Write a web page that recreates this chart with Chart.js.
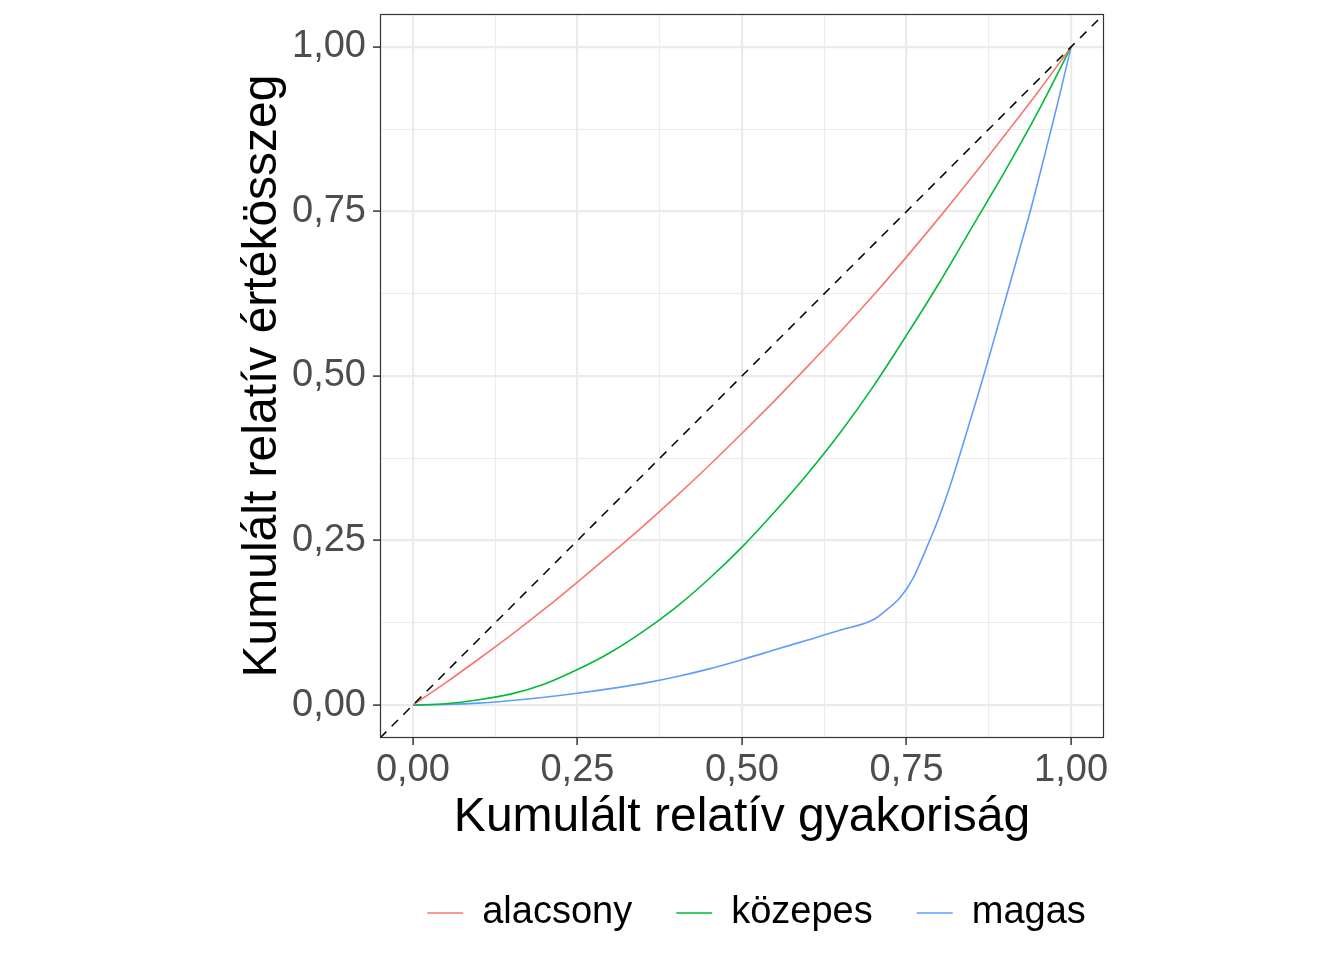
<!DOCTYPE html>
<html>
<head>
<meta charset="utf-8">
<script src="https://cdn.jsdelivr.net/npm/chart.js@4"></script>
<style>
html, body { margin: 0; padding: 0; background: #fff; overflow: hidden; }
</style>
</head>
<body>
<canvas id="lorenz" width="1344" height="960"></canvas>
<script>
// Lorenz curves per group
const shareX = [0, 0.05, 0.1, 0.15, 0.2, 0.25, 0.3, 0.35, 0.4, 0.45, 0.5, 0.55, 0.6, 0.65, 0.7, 0.75, 0.8, 0.85, 0.9, 0.95, 1];
const lowY = [0, 0.034, 0.07, 0.107, 0.146, 0.187, 0.229, 0.272, 0.317, 0.364, 0.413, 0.463, 0.515, 0.568, 0.623, 0.681, 0.741, 0.803, 0.867, 0.932, 1];
const midY = [0, 0.002, 0.008, 0.017, 0.032, 0.054, 0.08, 0.112, 0.149, 0.192, 0.24, 0.294, 0.352, 0.415, 0.485, 0.562, 0.642, 0.727, 0.812, 0.902, 1];
const highX = [0, 0.05, 0.1, 0.15, 0.2, 0.25, 0.3, 0.35, 0.4, 0.45, 0.5, 0.55, 0.6, 0.65, 0.7, 0.72, 0.74, 0.76, 0.78, 0.8, 0.82, 0.84, 0.86, 0.88, 0.9, 0.92, 0.94, 0.96, 0.98, 1];
const highY = [0, 0.001, 0.003, 0.007, 0.012, 0.018, 0.025, 0.033, 0.043, 0.055, 0.069, 0.084, 0.099, 0.114, 0.13, 0.145, 0.163, 0.193, 0.238, 0.287, 0.345, 0.41, 0.476, 0.545, 0.615, 0.686, 0.758, 0.836, 0.916, 1];
const equalityLine = [-0.05, 1.05];
const groupNames = ['alacsony', 'közepes', 'magas'];
const groupColors = ['#F8766D', '#00BA38', '#619CFF'];
const tickValues = [0, 0.125, 0.25, 0.375, 0.5, 0.625, 0.75, 0.875, 1];

const FONT = 'Liberation Sans, Arial, sans-serif';
const isMajor = v => Math.abs(v * 4 - Math.round(v * 4)) < 1e-9;
const fmt = v => isMajor(v) ? v.toFixed(2).replace('.', ',') : '';
const pts = (xs, ys) => xs.map((x, i) => ({x: x, y: ys[i]}));

const gridOpts = {
  color: '#EBEBEB',
  lineWidth: c => isMajor(c.tick.value) ? 2.2 : 1.1,
  tickColor: c => isMajor(c.tick.value) ? '#333333' : 'rgba(0,0,0,0)',
  tickWidth: 1.5,
  tickLength: 7
};

// panel border like theme_bw
const panelFrame = {
  id: 'panelFrame',
  afterDatasetsDraw(chart) {
    const a = chart.chartArea, c = chart.ctx;
    c.save();
    c.strokeStyle = '#333333';
    c.lineWidth = 1.2;
    c.strokeRect(a.left + 0.5, a.top + 0.5, a.right - a.left - 1, a.bottom - a.top - 1);
    c.restore();
  }
};

const lines = [[shareX, lowY], [shareX, midY], [highX, highY]].map((s, i) => ({
  label: groupNames[i],
  data: pts(s[0], s[1]),
  borderColor: groupColors[i],
  backgroundColor: groupColors[i],
  borderWidth: 1.6,
  pointRadius: 0,
  cubicInterpolationMode: 'monotone',
  fill: false
}));

new Chart(document.getElementById('lorenz'), {
  type: 'line',
  data: {
    datasets: [{
      label: 'diag',
      data: pts(equalityLine, equalityLine),
      borderColor: '#000000',
      borderWidth: 1.5,
      borderDash: [9, 7.5],
      pointRadius: 0,
      fill: false
    }].concat(lines)
  },
  options: {
    responsive: false,
    animation: false,
    layout: {padding: {left: 169, right: 0, top: 14, bottom: 18}},
    scales: {
      x: {
        type: 'linear', min: -0.05, max: 1.05,
        afterBuildTicks: s => { s.ticks = tickValues.map(v => ({value: v})); },
        afterFit: s => { s.height = 112; s.paddingLeft = 0; s.paddingRight = 0; },
        grid: gridOpts,
        border: {display: false},
        ticks: {autoSkip: false, maxRotation: 0, padding: 3, color: '#4D4D4D', font: {family: FONT, size: 38}, callback: fmt},
        title: {display: true, text: 'Kumulált relatív gyakoriság', color: '#000', font: {family: FONT, size: 48}, padding: {top: 0, bottom: 3}}
      },
      y: {
        type: 'linear', min: -0.05, max: 1.05,
        afterBuildTicks: s => { s.ticks = tickValues.map(v => ({value: v})); },
        afterFit: s => { s.width = 211; s.paddingTop = 0; s.paddingBottom = 0; },
        grid: gridOpts,
        border: {display: false},
        ticks: {autoSkip: false, padding: 7, color: '#4D4D4D', font: {family: FONT, size: 38}, callback: fmt},
        title: {display: true, text: 'Kumulált relatív értékösszeg', color: '#000', font: {family: FONT, size: 48}, padding: {top: 65, bottom: 0}}
      },
      // empty right strip so the legend centres like the original
      yRight: {
        type: 'linear', position: 'right', display: true,
        grid: {display: false}, border: {display: false}, ticks: {display: false},
        afterFit: s => { s.width = 240; s.paddingTop = 0; s.paddingBottom = 0; }
      }
    },
    plugins: {
      tooltip: {enabled: false},
      legend: {
        position: 'bottom',
        labels: {
          usePointStyle: true, pointStyle: 'line', pointStyleWidth: 36,
          padding: 44, color: '#000', font: {family: FONT, size: 38},
          filter: item => item.datasetIndex > 0
        }
      }
    }
  },
  plugins: [panelFrame]
});
</script>
</body>
</html>
